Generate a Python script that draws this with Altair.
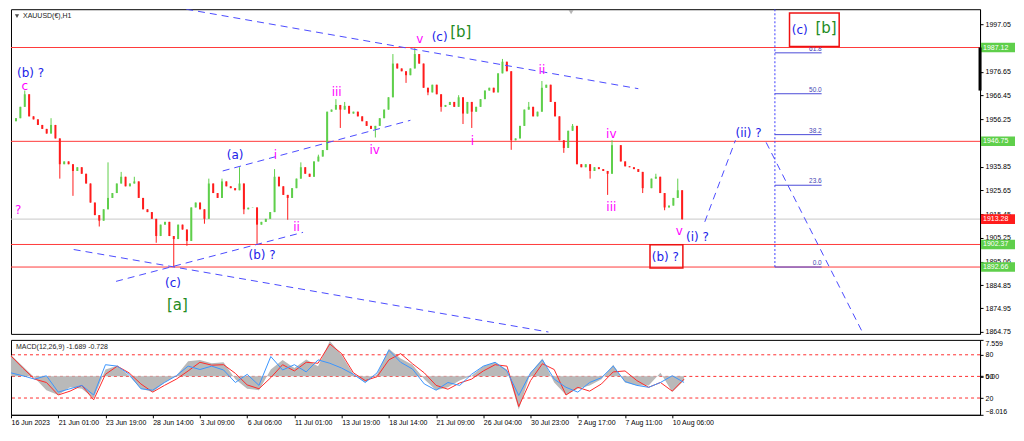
import json
import altair as alt
import pandas as pd

# ------------------------------------------------------------------ data
chart_title = "XAUUSD(€),H1"
macd_title = "MACD(12,26,9) -1.689 -0.728"

# price candles: one drawn candle summarises 6 hourly bars
bars_per_candle = 6
first_open = 1955.4
closes = [
    1956.7, 1961.6, 1967.0, 1957.5, 1956.2, 1953.8, 1952.1, 1950.1, 1953.8, 1948.0,
    1936.9, 1938.1, 1936.9, 1934.0, 1935.6, 1932.8, 1928.6, 1920.4, 1915.0, 1912.6,
    1917.5, 1922.4, 1924.5, 1928.6, 1931.5, 1927.4, 1928.6, 1929.5, 1922.4, 1917.5,
    1916.3, 1913.4, 1906.0, 1910.9, 1912.1, 1906.0, 1904.7, 1910.9, 1908.8, 1903.9,
    1918.3, 1920.4, 1917.5, 1913.4, 1928.6, 1924.5, 1922.4, 1929.5, 1927.4, 1926.6,
    1925.7, 1928.6, 1917.5, 1918.2, 1918.3, 1910.9, 1912.1, 1913.4, 1916.3, 1931.5,
    1927.4, 1923.7, 1922.4, 1926.6, 1930.7, 1935.6, 1932.8, 1931.5, 1938.1, 1940.2,
    1943.0, 1959.5, 1960.4, 1962.4, 1960.4, 1962.0, 1958.7, 1959.5, 1957.5, 1955.4,
    1953.4, 1952.1, 1953.4, 1956.7, 1960.4, 1965.7, 1980.2, 1978.1, 1976.9, 1975.2,
    1978.1, 1984.3, 1980.2, 1969.8, 1967.8, 1971.1, 1967.0, 1961.6, 1962.4, 1963.7,
    1961.6, 1965.7, 1958.7, 1963.7, 1959.5, 1961.6, 1964.9, 1968.6, 1969.8, 1967.8,
    1976.0, 1981.0, 1976.9, 1947.2, 1948.0, 1953.4, 1960.4, 1961.6, 1957.5, 1959.5,
    1969.8, 1971.1, 1963.7, 1957.5, 1947.2, 1943.9, 1951.3, 1953.4, 1936.9, 1935.6,
    1936.9, 1934.0, 1935.6, 1934.8, 1934.0, 1932.8, 1945.1, 1945.1, 1938.1, 1936.0,
    1935.6, 1934.8, 1933.6, 1926.6, 1926.6, 1930.7, 1931.5, 1924.5, 1918.3, 1919.1,
    1922.4, 1925.7, 1913.3,
]
spike_high = {2: 1968.6, 8: 1956.7, 21: 1937.7, 24: 1933.6, 27: 1931.5, 44: 1930.7,
              47: 1930.7, 51: 1935.6, 59: 1934.8, 65: 1937.7, 69: 1941.0, 73: 1964.9,
              75: 1963.7, 86: 1984.3, 91: 1986.9, 101: 1966.6, 111: 1982.2, 117: 1963.7,
              120: 1972.7, 127: 1954.2, 136: 1947.2, 146: 1932.8, 151: 1930.7}
spike_low = {10: 1930.7, 13: 1923.3, 19: 1910.1, 32: 1903.1, 36: 1892.7, 39: 1901.8,
             43: 1911.3, 52: 1915.4, 55: 1902.5, 62: 1913.0, 74: 1952.5, 82: 1948.4,
             89: 1971.9, 94: 1966.6, 97: 1959.5, 102: 1954.2, 104: 1952.5, 113: 1943.1,
             125: 1941.8, 131: 1930.7, 135: 1923.7, 143: 1924.5, 148: 1917.1, 152: 1913.0}

red_levels = [1987.12, 1946.75, 1902.37, 1892.66]
last_price = 1913.28
axis_bar_top, axis_bar_bottom = 1987.12, 1968.6

price_ticks = [1997.05, 1976.65, 1966.45, 1956.25, 1935.85, 1925.65, 1915.45,
               1905.25, 1895.06, 1884.85, 1874.95, 1864.75]
time_tick_bars = [0, 64, 128, 192, 256, 320, 384, 448, 512, 576, 640, 704, 768, 832, 896]
time_labels = ["16 Jun 2023", "21 Jun 01:00", "23 Jun 19:00", "28 Jun 14:00", "3 Jul 09:00",
               "6 Jul 06:00", "11 Jul 01:00", "13 Jul 19:00", "18 Jul 14:00", "21 Jul 09:00",
               "26 Jul 04:00", "30 Jul 23:00", "2 Aug 17:00", "7 Aug 11:00", "10 Aug 06:00"]

# dashed trend / projection lines (bar, price) start -> end
trend_start_bar = [233, 79, 137, 283, 943, 1027]
trend_start_price = [2003.6, 1900.2, 1886.5, 1934.0, 1912.1, 1946.3]
trend_end_bar = [852, 729, 393, 540, 985, 1160]
trend_end_price = [1969.4, 1864.7, 1907.6, 1955.8, 1947.2, 1863.9]

# Elliott wave labels
wave_text = ["(b) ?", "c", "?", "(c)", "[a]", "(a)", "i", "ii", "(b) ?", "iii", "iv", "v",
             "(c)", "[b]", "i", "ii", "iv", "iii", "v", "(i) ?", "(b) ?", "(ii) ?", "(c)", "[b]"]
wave_kind = ["blue", "magenta", "magenta", "blue", "green", "blue", "magenta", "magenta",
             "blue", "magenta", "magenta", "magenta", "blue", "green", "magenta", "magenta",
             "magenta", "magenta", "magenta", "blue", "blue", "blue", "blue", "green"]
wave_bar = [20, 12, 3, 215, 221, 300, 355, 384, 337, 439, 491, 553,
            580, 609, 625, 720, 815, 815, 908, 933, 889, 1003, 1073, 1109]
wave_price = [1976.0, 1970.7, 1917.1, 1885.8, 1876.3, 1941.0, 1941.0, 1910.1, 1897.7,
              1967.8, 1943.0, 1990.9, 1991.7, 1993.8, 1946.8, 1977.3, 1950.1, 1918.3,
              1908.0, 1905.5, 1896.9, 1950.5, 1994.6, 1995.4]

# red boxes round "(b) ?" and "(c) [b]"
box_bar_start = [868, 1059]
box_bar_end = [913, 1127]
box_price_top = [1902.2, 2002.0]
box_price_bottom = [1892.2, 1987.6]

# Fibonacci retracement
fib_low, fib_high = 1892.66, 2041.8
fib_ratios = [0.0, 0.236, 0.382, 0.5, 0.618]
fib_labels = ["0.0", "23.6", "38.2", "50.0", "61.8"]
fib_bar_start, fib_bar_end = 1039, 1103
shift_marker_bar = 760

# MACD panel (one value per 16 hourly bars)
macd_bar_step = 16
macd_hist = [4.4, 2.1, -0.3, -2.9, -3.9, -2.3, -2.6, -4.6, 1.4, 2.2,
             0.1, -2.6, -3.3, -1.3, 0.1, 3.1, 3.4, 2.7, 2.9, -0.6,
             -2.6, -2.9, 1.4, 3.4, 1.7, 3.5, 2.1, 7.3, 4.4, 0.4,
             -1.3, 0.4, 5.7, 3.7, 2.4, -0.6, -2.9, -2.3, -0.9, 0.1,
             2.1, 2.9, 1.4, -6.9, 0.7, 3.7, -1.3, -3.9, -2.6, -1.9,
             -0.6, 2.4, -1.3, -1.9, -1.9, 0.7, -3.3, -0.9]
macd_signal = [4.2, 1.7, -0.6, -1.3, -3.9, -3.1, -1.9, -4.9, 0.4, 2.1,
               0.7, -1.6, -3.3, -1.9, -0.6, 1.1, 2.9, 2.3, 2.4, 0.6,
               -1.8, -2.6, -0.3, 2.4, 1.1, 2.9, 2.7, 6.7, 4.7, 0.7,
               -0.9, -0.1, 3.4, 4.7, 2.6, 0.7, -1.9, -2.7, -1.4, -0.6,
               1.1, 2.4, 2.1, -6.3, -0.9, 2.6, 1.4, -3.9, -2.3, -3.1,
               -1.6, 0.9, 1.1, -0.9, -2.3, -1.3, -3.1, -0.6]
macd_blue = [0.7, 0.1, -0.6, 0.1, -3.3, -2.6, -1.9, -3.9, 2.4, 2.1,
             0.4, -2.6, -2.9, -1.3, 0.1, 2.1, 1.4, 2.1, 1.3, -1.3,
             0.4, -1.9, 4.1, 1.3, 2.4, 0.9, 3.4, 2.7, 1.7, 0.4,
             -1.3, 0.7, 5.4, 2.9, 1.5, -1.6, -2.9, -1.3, -1.9, 0.4,
             2.1, 2.9, 1.1, -4.0, 0.7, 3.4, -0.6, -2.3, -3.3, -1.3,
             -0.3, 2.1, -1.1, -1.9, -2.3, -1.3, 0.1, -1.3]
macd_range = [-8.016, 7.559]
level_values = [80, 50, 20]
level_range = [-3.3, 100.7]

# ------------------------------------------------------------------ style
W, H1, H2 = 970, 325, 75
X_DOMAIN = [0, 1313]
P_DOMAIN = [1863.9, 2003.6]
FONT = "Liberation Sans"
WFONT = "DejaVu Sans"
UP, DOWN = "#5fcf4b", "#ff1c1c"
RED = "#ff3a3a"
BLUE_LINE = "#4b4bff"

xs = alt.Scale(domain=X_DOMAIN, nice=False, zero=False)
ps = alt.Scale(domain=P_DOMAIN, nice=False, zero=False)

price_axis = alt.Axis(orient="right", values=price_ticks, format=".2f", title=None, grid=False,
                      labelFontSize=7, labelFont=FONT, labelColor="black", tickColor="black",
                      tickSize=3, domainColor="black", labelPadding=2)


def X(f):
    return alt.X(f, type="quantitative", scale=xs, axis=None)


def Y(f):
    return alt.Y(f, type="quantitative", scale=ps, axis=price_axis)


rows = []
prev = first_open
for k, c in enumerate(closes):
    o = prev
    rows.append(dict(t=k * bars_per_candle, open=o, close=c,
                     high=max(o, c, spike_high.get(k, c)), low=min(o, c, spike_low.get(k, c)),
                     dir="up" if c >= o else "down"))
    prev = c
candles = pd.DataFrame(rows)
ccolor = alt.Color("dir:N", scale=alt.Scale(domain=["up", "down"], range=[UP, DOWN]), legend=None)

wicks = alt.Chart(candles).mark_rule(strokeWidth=1).encode(x=X("t"), y=Y("low"), y2="high", color=ccolor)
bodies = alt.Chart(candles).mark_bar(width=2).encode(x=X("t"), y=Y("open"), y2="close", color=ccolor)

levels = alt.Chart(pd.DataFrame({"price": red_levels})).mark_rule(color=RED, strokeWidth=1).encode(y=Y("price"))
lastline = alt.Chart(pd.DataFrame({"price": [last_price]})).mark_rule(color="#c8c8c8").encode(y=Y("price"))

trows = []
for i in range(len(trend_start_bar)):
    trows.append(dict(seg=i, t=trend_start_bar[i], price=trend_start_price[i]))
    trows.append(dict(seg=i, t=trend_end_bar[i], price=trend_end_price[i]))
trend = alt.Chart(pd.DataFrame(trows)).mark_line(color=BLUE_LINE, strokeWidth=1, strokeDash=[7, 5], clip=True).encode(
    x=X("t"), y=Y("price"), detail="seg:N")

vline = alt.Chart(pd.DataFrame({"t": [fib_bar_start], "lo": [fib_low], "hi": [P_DOMAIN[1]]})).mark_rule(
    color="#3c3cff", strokeDash=[2, 2]).encode(x=X("t"), y=Y("lo"), y2="hi")

fdf = pd.DataFrame({"price": [fib_low + r * (fib_high - fib_low) for r in fib_ratios],
                    "label": fib_labels, "t1": fib_bar_start, "t2": fib_bar_end})
fibrules = alt.Chart(fdf).mark_rule(color="#4b4bd8").encode(x=X("t1"), x2="t2", y=Y("price"))
fibtext = alt.Chart(fdf).mark_text(align="right", baseline="bottom", dy=-1, fontSize=6.5, font=FONT,
                                   color="#4646b4").encode(x=X("t2"), y=Y("price"), text="label:N")

waves = pd.DataFrame({"text": wave_text, "kind": wave_kind, "t": wave_bar, "price": wave_price})
wave_layers = []
for kind, col, size in [("blue", "#2222e8", 12), ("magenta", "#ff00ff", 12), ("green", "#238b23", 15)]:
    wave_layers.append(alt.Chart(waves).transform_filter(alt.datum.kind == kind).mark_text(
        font=WFONT, fontSize=size, color=col).encode(x=X("t"), y=Y("price"), text="text:N"))

boxes = alt.Chart(pd.DataFrame({"t1": box_bar_start, "t2": box_bar_end, "p1": box_price_top,
                                "p2": box_price_bottom})).mark_rect(
    fillOpacity=0, stroke="#ee1111", strokeWidth=1.5).encode(x=X("t1"), x2="t2", y=Y("p1"), y2="p2")

one = pd.DataFrame({"label": [chart_title]})
title_tri = alt.Chart(one).mark_point(shape="triangle-down", filled=True, size=18, color="black").encode(
    x=alt.value(6), y=alt.value(7))
title_txt = alt.Chart(one).mark_text(align="left", fontSize=7, font=FONT, color="#222").encode(
    x=alt.value(12), y=alt.value(7), text="label:N")
shift = alt.Chart(pd.DataFrame({"t": [shift_marker_bar]})).mark_point(
    shape="triangle-down", filled=True, size=25, color="#999999").encode(x=X("t"), y=alt.value(3))

tags = pd.DataFrame({"price": red_levels + [last_price],
                     "label": [f"{p:.2f}" for p in red_levels + [last_price]],
                     "kind": ["red"] * len(red_levels) + ["last"]})
tcolor = alt.Color("kind:N", scale=alt.Scale(domain=["red", "last"], range=["#ff0000", "#000000"]), legend=None)
tag_pts = alt.Chart(tags).mark_point(shape="M-1,-0.28L1,-0.28L1,0.28L-1,0.28Z", size=1156, filled=True,
                                     opacity=1, strokeWidth=0).encode(x=alt.value(W + 18), y=Y("price"), color=tcolor)
tag_txt = alt.Chart(tags).mark_text(align="left", fontSize=7, font=FONT, color="white").encode(
    x=alt.value(W + 3), y=Y("price"), text="label:N")
axisbar = alt.Chart(pd.DataFrame({"a": [axis_bar_top], "b": [axis_bar_bottom]})).mark_rule(
    strokeWidth=3, color="black").encode(x=alt.value(W), y=Y("a"), y2="b")

main = alt.layer(levels, lastline, wicks, bodies, trend, vline, fibrules, fibtext, *wave_layers,
                 boxes, title_tri, title_txt, shift, tag_pts, tag_txt, axisbar).properties(width=W, height=H1)

# ------------------------------------------------------------------ MACD panel
mdf = pd.DataFrame({"t": [j * macd_bar_step for j in range(len(macd_hist))],
                    "hist": macd_hist, "signal": macd_signal, "blue": macd_blue})
ms = alt.Scale(domain=macd_range, nice=False, zero=False)
macd_axis = alt.Axis(orient="right", values=[macd_range[1], 0, macd_range[0]], title=None, grid=False,
                     labelExpr="datum.value == 0 ? '0.00' : format(datum.value, '.3f')", labelFlush=True,
                     labelFontSize=7, labelFont=FONT, labelColor="black", tickColor="black", tickSize=3,
                     domainColor="black", labelPadding=2)
time_axis = alt.Axis(values=time_tick_bars, title=None, grid=False,
                     labelExpr=f"{json.dumps(time_labels)}[indexof({json.dumps(time_tick_bars)}, datum.value)]",
                     labelAlign="left", labelFontSize=7, labelFont=FONT, labelColor="black", tickColor="black",
                     tickSize=3, labelPadding=1, labelFlush=False, labelOverlap=False, domainColor="black")


def XM(f):
    return alt.X(f, type="quantitative", scale=xs, axis=time_axis)


def YM(f):
    return alt.Y(f, type="quantitative", scale=ms, axis=macd_axis)


hist = alt.Chart(mdf).mark_area(color="#b9b9b9").encode(x=XM("t"), y=YM("hist"), y2=alt.datum(0))
sig = alt.Chart(mdf).mark_line(color="#ff2a2a", strokeWidth=1).encode(x=XM("t"), y=YM("signal"))
blue = alt.Chart(mdf).mark_line(color="#3a96ff", strokeWidth=1).encode(x=XM("t"), y=YM("blue"))
mtitle = alt.Chart(pd.DataFrame({"label": [macd_title]})).mark_text(
    align="left", fontSize=7, font=FONT, color="#222").encode(x=alt.value(5), y=alt.value(7), text="label:N")

level_axis = alt.Axis(orient="right", values=level_values, format="d", title=None, grid=False, domain=False,
                      labelFontSize=7, labelFont=FONT, labelColor="black", tickColor="black", tickSize=3,
                      labelPadding=2)
lev_rules = alt.Chart(pd.DataFrame({"level": level_values})).mark_rule(
    color="#ff3030", strokeDash=[3, 3]).encode(
    y=alt.Y("level:Q", scale=alt.Scale(domain=level_range, nice=False, zero=False), axis=level_axis))

macd = alt.layer(lev_rules, alt.layer(hist, sig, blue, mtitle)).resolve_scale(y="independent").properties(
    width=W, height=H2)

chart = alt.vconcat(main, macd, spacing=3).properties(padding=0, background="white").configure_view(
    stroke="black", strokeWidth=1)

chart.save("out.html", embed_options={"renderer": "svg", "actions": False})
